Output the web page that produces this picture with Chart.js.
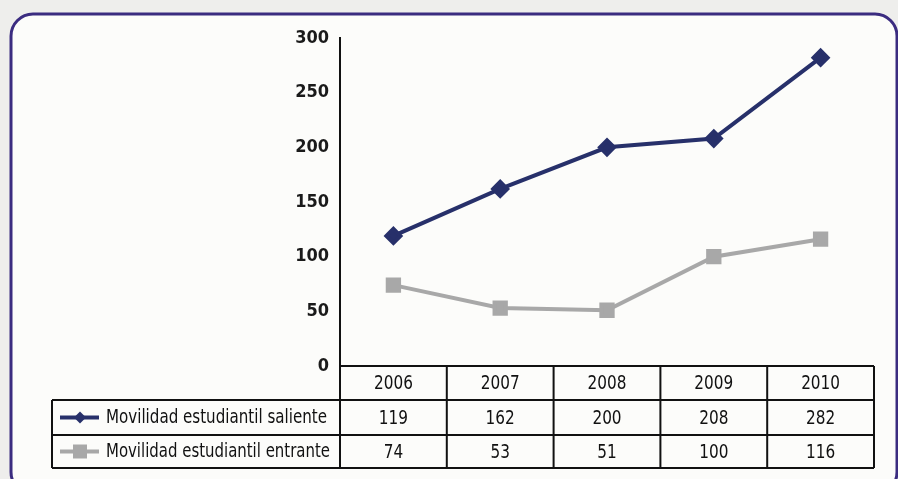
<!DOCTYPE html>
<html>
<head>
<meta charset="utf-8">
<script src="https://cdn.jsdelivr.net/npm/chart.js@4.4.0/dist/chart.umd.min.js"></script>
<style>
  html, body { margin: 0; padding: 0; background: #eeeeec; }
  #wrap { width: 898px; height: 479px; position: relative; }
</style>
</head>
<body>
<div id="wrap"><canvas id="myChart" width="898" height="479"></canvas></div>
<script>
// datos
const years = ['2006', '2007', '2008', '2009', '2010'];
const saliente = [119, 162, 200, 208, 282];
const entrante = [74, 53, 51, 100, 116];
const seriesNames = ['Movilidad estudiantil saliente', 'Movilidad estudiantil entrante'];
const yTicks = [0, 50, 100, 150, 200, 250, 300];

const FONT = '"Liberation Sans Narrow", "DejaVu Sans Condensed", "Roboto Condensed", sans-serif';
const NAVY = '#27306a';
const GRAY = '#a8a8a8';

// texto estrecho (fuente condensada a mano)
function narrowText(c, txt, x, y, sx) {
    c.save();
    c.translate(x, y);
    c.scale(sx, 1);
    c.fillText(txt, 0, 0);
    c.restore();
}

// caja redondeada de fondo
const frame = {
    id: 'frame',
    beforeDraw(chart) {
        const c = chart.ctx;
        c.save();
        c.beginPath();
        c.roundRect(11, 14, 886, 480, 22);
        c.fillStyle = '#fcfcfa';
        c.fill();
        c.lineWidth = 3;
        c.strokeStyle = '#3b2c80';
        c.stroke();
        c.restore();
    }
};

// tabla de datos bajo el eje
const dataTable = {
    id: 'dataTable',
    afterDraw(chart) {
        const c = chart.ctx;
        const xs = chart.scales.x;
        const area = chart.chartArea;
        const colW = (area.right - area.left) / years.length;
        const rowTop = area.bottom;
        const rowH = [34, 35, 33];
        const y1 = rowTop + rowH[0];
        const y2 = y1 + rowH[1];
        const y3 = y2 + rowH[2];
        const legLeft = 52;

        c.save();
        c.strokeStyle = '#111';
        c.lineWidth = 2;
        // horizontales
        c.beginPath();
        c.moveTo(area.left, rowTop); c.lineTo(area.right, rowTop);
        c.moveTo(legLeft, y1); c.lineTo(area.right, y1);
        c.moveTo(legLeft, y2); c.lineTo(area.right, y2);
        c.moveTo(legLeft, y3); c.lineTo(area.right, y3);
        // verticales
        c.moveTo(legLeft, y1); c.lineTo(legLeft, y3);
        for (let i = 0; i <= years.length; i++) {
            const x = area.left + i * colW;
            c.moveTo(x, rowTop); c.lineTo(x, y3);
        }
        c.stroke();

        c.fillStyle = '#111';
        c.font = '20px ' + FONT;
        c.textAlign = 'center';
        c.textBaseline = 'middle';
        const sx = 0.85;
        years.forEach((yr, i) => {
            const cx = xs.getPixelForValue(i);
            narrowText(c, yr, cx, rowTop + rowH[0] / 2 + 1, sx);
            narrowText(c, String(saliente[i]), cx, y1 + rowH[1] / 2 + 1, sx);
            narrowText(c, String(entrante[i]), cx, y2 + rowH[2] / 2 + 1, sx);
        });

        // leyenda
        const rows = [
            { y: y1 + rowH[1] / 2, color: NAVY, style: 'diamond' },
            { y: y2 + rowH[2] / 2, color: GRAY, style: 'square' }
        ];
        rows.forEach((r, k) => {
            c.strokeStyle = r.color;
            c.lineWidth = 4;
            c.beginPath();
            c.moveTo(60, r.y); c.lineTo(99, r.y);
            c.stroke();
            c.fillStyle = r.color;
            c.beginPath();
            if (r.style === 'diamond') {
                c.moveTo(80, r.y - 6); c.lineTo(86, r.y); c.lineTo(80, r.y + 6); c.lineTo(74, r.y);
            } else {
                c.rect(73, r.y - 7, 14, 14);
            }
            c.fill();
            c.fillStyle = '#111';
            c.textAlign = 'left';
            c.font = '19px ' + FONT;
            c.fillText(seriesNames[k], 106, r.y + 1, k === 0 ? 221 : 224);
            c.font = '20px ' + FONT;
        });
        c.restore();
    }
};

const ctx = document.getElementById('myChart');
const myChart = new Chart(ctx, {
    type: 'line',
    data: {
        labels: years,
        datasets: [{
            label: seriesNames[0],
            data: saliente,
            borderColor: NAVY,
            backgroundColor: NAVY,
            borderWidth: 4,
            pointStyle: 'rectRot',
            pointRadius: 7,
            pointHoverRadius: 7,
            tension: 0
        }, {
            label: seriesNames[1],
            data: entrante,
            borderColor: GRAY,
            backgroundColor: GRAY,
            borderWidth: 4,
            pointStyle: 'rect',
            pointRadius: 8,
            pointHoverRadius: 8,
            tension: 0
        }]
    },
    options: {
        responsive: false,
        animation: false,
        devicePixelRatio: 1,
        layout: { padding: { left: 0, right: 24, top: 38, bottom: 113 } },
        plugins: {
            legend: { display: false },
            tooltip: { enabled: false }
        },
        scales: {
            x: {
                type: 'category',
                offset: true,
                display: false
            },
            y: {
                min: 0,
                max: 300,
                afterBuildTicks(axis) {
                    axis.ticks = yTicks.map(v => ({ value: v }));
                },
                afterFit(axis) { axis.width = 340; },
                grid: { display: false, drawTicks: false },
                border: { display: true, color: '#111', width: 2 },
                ticks: {
                    color: '#1a1a1a',
                    padding: 11,
                    font: { family: FONT, size: 18, weight: 'bold' }
                }
            }
        }
    },
    plugins: [frame, dataTable]
});
</script>
</body>
</html>
